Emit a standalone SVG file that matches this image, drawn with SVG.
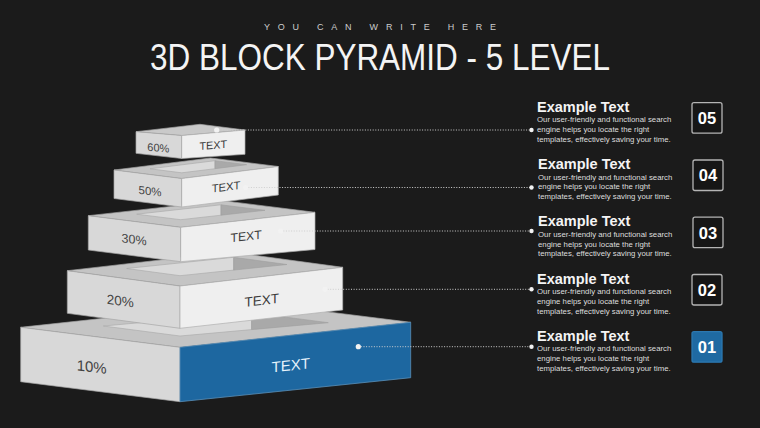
<svg xmlns="http://www.w3.org/2000/svg" width="760" height="428" viewBox="0 0 760 428">
<style>
  .top{fill:#c4c4c4;stroke:#a2a2a2;stroke-width:0.7;stroke-linejoin:round}
  .holeL{fill:#dadada;stroke:#a8a8a8;stroke-width:0.6;stroke-linejoin:round}
  .holeD{fill:#a9a9a9;stroke:#a0a0a0;stroke-width:0.6;stroke-linejoin:round}
  .lf{fill:#d8d8d8;stroke:#a6a6a6;stroke-width:0.7;stroke-linejoin:round}
  .rf{fill:#efefef;stroke:#b0b0b0;stroke-width:0.7;stroke-linejoin:round}
  .blue{fill:#1d67a0;stroke:#5a8fb8;stroke-width:0.8;stroke-linejoin:round}
  .pct{font-family:"Liberation Sans",Arial,sans-serif;fill:#444;text-anchor:middle}
  .ft{font-family:"Liberation Sans",Arial,sans-serif;fill:#3c3c3c;text-anchor:middle}
  .ftb{font-family:"Liberation Sans",Arial,sans-serif;fill:#e6f2fb;text-anchor:middle}
  .conn{stroke:#cfcfcf;stroke-width:1;stroke-dasharray:1 1.6;fill:none}
  .dot{fill:#f2f2f2}
  .h{font-family:"Liberation Sans",Arial,sans-serif;font-weight:bold;font-size:14.5px;fill:#f4f4f4}
  .b{font-family:"Liberation Sans",Arial,sans-serif;font-size:7.8px;fill:#dedede}
  .box{fill:#161616;stroke:#b4b4b4;stroke-width:1.3}
  .boxb{fill:#1f6aa2;stroke:#2c78b0;stroke-width:1.3}
  .num{font-family:"Liberation Sans",Arial,sans-serif;font-weight:bold;font-size:16.5px;fill:#ffffff;text-anchor:middle}
</style>
<rect width="760" height="428" fill="#1b1b1b"/>

<g id="header">
  <text x="380" y="30" font-family="'Liberation Sans',Arial,sans-serif" font-size="9" fill="#cccccc" text-anchor="middle" textLength="232" lengthAdjust="spacing">YOU CAN WRITE HERE</text>
  <text x="380" y="70" font-family="'Liberation Sans',Arial,sans-serif" font-size="36" fill="#f4f4f4" text-anchor="middle" textLength="460" lengthAdjust="spacingAndGlyphs">3D BLOCK PYRAMID - 5 LEVEL</text>
</g>

<g id="level-1">
  <polygon class="top" points="20.7,327.3 180,347.3 410.7,322.3 251.4,302.3"/>
  <polygon class="holeL" points="103.3,326 180,336 251.6,329.6 251.6,312.7"/>
  <polygon class="holeD" points="251.6,312.7 251.6,329.6 328.3,322.7"/>
  <polygon class="lf" points="20.7,327.3 180,347.3 180,401.7 20.7,381.7"/>
  <polygon class="blue" points="180,347.3 410.7,322.3 410.7,377.7 180,401.7"/>
  <text class="pct" font-size="15" transform="matrix(1 0.1255 0 1 91.7 366.7)" y="5.4">10%</text>
  <text class="ftb" font-size="15" transform="matrix(1 -0.1084 0 1 290.7 365)" y="5.4">TEXT</text>
</g>

<g id="level-2">
  <polygon class="top" points="67.3,270.7 180,286 342.7,267.3 230,252"/>
  <polygon class="holeL" points="126.7,268.5 180,275.7 233.7,270.1 233.7,257.3"/>
  <polygon class="holeD" points="233.7,257.3 233.7,270.1 287,264.5"/>
  <polygon class="lf" points="67.3,270.7 180,286 180,328.3 67.3,313.3"/>
  <polygon class="rf" points="180,286 342.7,267.3 342.7,310 180,328.3"/>
  <text class="pct" font-size="13.5" transform="matrix(1 0.1358 0 1 120.3 300.7)" y="4.9">20%</text>
  <text class="ft" font-size="13.5" transform="matrix(1 -0.1149 0 1 261.7 300)" y="4.9">TEXT</text>
</g>

<g id="level-3">
  <polygon class="top" points="88.3,215.7 180.7,227.3 315,212.3 222.6,200.7"/>
  <polygon class="holeL" points="136.7,214.2 180.7,219.7 221,215.2 221,204.8"/>
  <polygon class="holeD" points="221,204.8 221,215.2 265,210.3"/>
  <polygon class="lf" points="88.3,215.7 180.7,227.3 180.7,261.7 88.3,250"/>
  <polygon class="rf" points="180.7,227.3 315,212.3 315,249.5 180.7,261.7"/>
  <text class="pct" font-size="12.5" transform="matrix(1 0.1255 0 1 134 239.3)" y="4.5">30%</text>
  <text class="ft" font-size="12.2" transform="matrix(1 -0.1117 0 1 246 236)" y="4.4">TEXT</text>
</g>

<g id="level-4">
  <polygon class="top" points="114,170 181.7,178.5 278.3,166.5 210.6,158"/>
  <polygon class="holeL" points="150,168.8 181.7,172.8 215,168.7 215,160.7"/>
  <polygon class="holeD" points="215,160.7 215,168.7 246.7,164.7"/>
  <polygon class="lf" points="114,170 181.7,178.5 181.7,207 114,198.5"/>
  <polygon class="rf" points="181.7,178.5 278.3,166.5 278.3,195 181.7,207"/>
  <text class="pct" font-size="11.5" transform="matrix(1 0.1256 0 1 150 191)" y="4.1">50%</text>
  <text class="ft" font-size="11.2" transform="matrix(1 -0.1242 0 1 226 186.7)" y="4">TEXT</text>
</g>

<g id="level-5">
  <polygon class="top" style="fill:#c9c9c9" points="136,131.7 181.7,135.5 245,130 200,124.3"/>
  <polygon class="lf" points="136,131.7 181.7,135.5 181.7,158.5 136,153.3"/>
  <polygon class="rf" points="181.7,135.5 245,130 245,154.3 181.7,158.5"/>
  <text class="pct" font-size="11" transform="matrix(1 0.083 0 1 158.3 147.7)" y="4">60%</text>
  <text class="ft" font-size="10.8" transform="matrix(1 -0.087 0 1 213.3 145)" y="3.9">TEXT</text>
</g>

<g id="connectors">
  <line class="conn" x1="216.7" y1="130" x2="531.5" y2="130"/>
  <line class="conn" x1="245.7" y1="187.5" x2="531.5" y2="187.5"/>
  <line class="conn" x1="280.7" y1="231" x2="531.5" y2="231"/>
  <line class="conn" x1="325" y1="289.3" x2="531.5" y2="289.3"/>
  <line class="conn" x1="358.3" y1="346.7" x2="531.5" y2="346.7"/>
  <circle class="dot" cx="216.7" cy="130" r="2.6"/>
  <circle class="dot" cx="245.7" cy="187.5" r="2.6"/>
  <circle class="dot" cx="280.7" cy="231" r="2.6"/>
  <circle class="dot" cx="325" cy="289.3" r="2.6"/>
  <circle class="dot" cx="358.3" cy="346.7" r="2.6"/>
  <circle class="dot" cx="531.5" cy="130" r="2.2"/>
  <circle class="dot" cx="531.5" cy="187.5" r="2.2"/>
  <circle class="dot" cx="531.5" cy="231" r="2.2"/>
  <circle class="dot" cx="531.5" cy="289.3" r="2.2"/>
  <circle class="dot" cx="531.5" cy="346.7" r="2.2"/>
</g>

<g id="row-5">
  <text class="h" x="537" y="111.7">Example Text</text>
  <text class="b" x="537" y="122.3">Our user-friendly  and functional  search</text>
  <text class="b" x="537" y="132">engine helps you locate the right</text>
  <text class="b" x="537" y="141.7">templates, effectively saving your time.</text>
  <rect class="box" x="692" y="102.7" width="30" height="30.5" rx="2"/>
  <text class="num" x="707" y="124">05</text>
</g>
<g id="row-4">
  <text class="h" x="538" y="169">Example Text</text>
  <text class="b" x="538" y="179.6">Our user-friendly  and functional  search</text>
  <text class="b" x="538" y="189.3">engine helps you locate the right</text>
  <text class="b" x="538" y="199">templates, effectively saving your time.</text>
  <rect class="box" x="693" y="160" width="30" height="30.5" rx="2"/>
  <text class="num" x="708" y="181.3">04</text>
</g>
<g id="row-3">
  <text class="h" x="538" y="226.2">Example Text</text>
  <text class="b" x="538" y="236.8">Our user-friendly  and functional  search</text>
  <text class="b" x="538" y="246.5">engine helps you locate the right</text>
  <text class="b" x="538" y="256.2">templates, effectively saving your time.</text>
  <rect class="box" x="693" y="217.2" width="30" height="30.5" rx="2"/>
  <text class="num" x="708" y="238.5">03</text>
</g>
<g id="row-2">
  <text class="h" x="537" y="283.5">Example Text</text>
  <text class="b" x="537" y="294.1">Our user-friendly  and functional  search</text>
  <text class="b" x="537" y="303.8">engine helps you locate the right</text>
  <text class="b" x="537" y="313.5">templates, effectively saving your time.</text>
  <rect class="box" x="692" y="274.5" width="30" height="30.5" rx="2"/>
  <text class="num" x="707" y="295.8">02</text>
</g>
<g id="row-1">
  <text class="h" x="537" y="340.7">Example Text</text>
  <text class="b" x="537" y="351.3">Our user-friendly  and functional  search</text>
  <text class="b" x="537" y="361">engine helps you locate the right</text>
  <text class="b" x="537" y="370.7">templates, effectively saving your time.</text>
  <rect class="boxb" x="692" y="331.7" width="30" height="30.5" rx="2"/>
  <text class="num" x="707" y="353">01</text>
</g>
</svg>
